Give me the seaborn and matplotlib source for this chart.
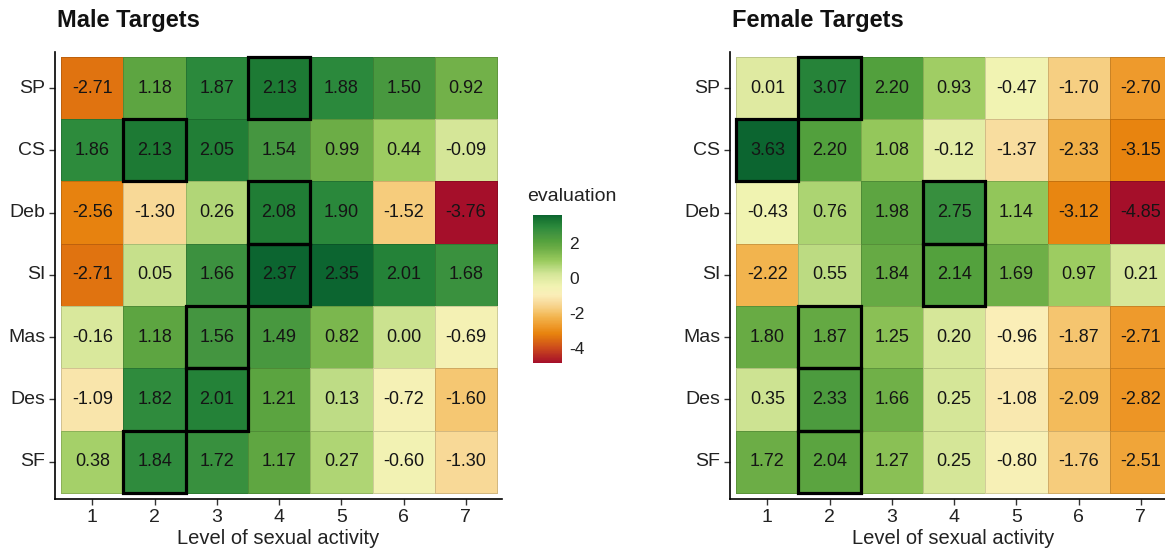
import numpy as np
import pandas as pd
import seaborn as sns
import matplotlib
matplotlib.use("Agg")
import matplotlib.pyplot as plt
from matplotlib.colors import LinearSegmentedColormap, Normalize
from matplotlib.cm import ScalarMappable
from matplotlib.patches import Rectangle

# ---------------- data ----------------
rows = ["SP", "CS", "Deb", "SI", "Mas", "Des", "SF"]
levels = ["1", "2", "3", "4", "5", "6", "7"]

male_eval = [
    [-2.71, 1.18, 1.87, 2.13, 1.88, 1.50, 0.92],
    [1.86, 2.13, 2.05, 1.54, 0.99, 0.44, -0.09],
    [-2.56, -1.30, 0.26, 2.08, 1.90, -1.52, -3.76],
    [-2.71, 0.05, 1.66, 2.37, 2.35, 2.01, 1.68],
    [-0.16, 1.18, 1.56, 1.49, 0.82, 0.00, -0.69],
    [-1.09, 1.82, 2.01, 1.21, 0.13, -0.72, -1.60],
    [0.38, 1.84, 1.72, 1.17, 0.27, -0.60, -1.30],
]
female_eval = [
    [0.01, 3.07, 2.20, 0.93, -0.47, -1.70, -2.70],
    [3.63, 2.20, 1.08, -0.12, -1.37, -2.33, -3.15],
    [-0.43, 0.76, 1.98, 2.75, 1.14, -3.12, -4.85],
    [-2.22, 0.55, 1.84, 2.14, 1.69, 0.97, 0.21],
    [1.80, 1.87, 1.25, 0.20, -0.96, -1.87, -2.71],
    [0.35, 2.33, 1.66, 0.25, -1.08, -2.09, -2.82],
    [1.72, 2.04, 1.27, 0.25, -0.80, -1.76, -2.51],
]
cbar_ticks = [2, 0, -2, -4]

titles = ["Male Targets", "Female Targets"]
x_title = "Level of sexual activity"
legend_title = "evaluation"

# ---------------- style ----------------
cmap = LinearSegmentedColormap.from_list("evalpal", [
    (0.00, "#A50F2A"),
    (0.10, "#CC4A1C"),
    (0.17, "#E07410"),
    (0.20, "#E8840F"),
    (0.25, "#EE9A2B"),
    (0.31, "#F2B44E"),
    (0.37, "#F6CE80"),
    (0.41, "#F8DC9E"),
    (0.46, "#FAEEB8"),
    (0.52, "#F1F3B2"),
    (0.60, "#D5E698"),
    (0.64, "#BBDB82"),
    (0.69, "#9BCB5E"),
    (0.78, "#6AAC45"),
    (0.83, "#52A03D"),
    (0.87, "#449540"),
    (0.92, "#2C8A3C"),
    (0.96, "#1D7A34"),
    (1.00, "#0C6530"),
])

sns.set_theme(style="white")
plt.rcParams["font.family"] = ["Liberation Sans", "DejaVu Sans"]

W, H = 1165, 552
fig = plt.figure(figsize=(W / 100, H / 100), dpi=100)

def fx(px):
    return px / W

def fy(py):
    return 1 - py / H

panel_left_px = [55, 730]
ax_w_px = 447
ax_top_px, ax_bot_px = 52, 499

for k, (vals, title) in enumerate(zip([male_eval, female_eval], titles)):
    df = pd.DataFrame(vals, index=rows, columns=levels)
    lpx = panel_left_px[k]
    ax = fig.add_axes([fx(lpx), fy(ax_bot_px), ax_w_px / W, (ax_bot_px - ax_top_px) / H])
    vmin, vmax = float(df.values.min()), float(df.values.max())
    sns.heatmap(df, ax=ax, cmap=cmap, vmin=vmin, vmax=vmax, annot=True, fmt=".2f",
                cbar=False, linewidths=0.5, linecolor=(0, 0, 0, 0.15),
                annot_kws={"color": "#151515", "fontsize": 13})
    # highlight row maxima
    arr = df.values
    for i in range(arr.shape[0]):
        j = int(np.argmax(arr[i]))
        ax.add_patch(Rectangle((j, i), 1, 1, fill=False, ec="black", lw=2.3,
                               zorder=6, clip_on=False))
    ax.set_xlim(-0.1, 7.08)
    ax.set_ylim(7.1, -0.08)
    for side in ["left", "bottom"]:
        ax.spines[side].set_visible(True)
        ax.spines[side].set_color("black")
        ax.spines[side].set_linewidth(1.2)
    for side in ["right", "top"]:
        ax.spines[side].set_visible(False)
    ax.tick_params(axis="both", length=4, width=1, color="#333333",
                   labelsize=14, labelcolor="#222222", pad=3,
                   left=True, bottom=True)
    ax.set_yticklabels(rows, rotation=0)
    ax.set_xticklabels(levels, rotation=0)
    ax.set_ylabel("")
    ax.set_xlabel(x_title, fontsize=14.5, color="#222222", labelpad=2)
    fig.text(fx(lpx + 2), fy(20), title, fontsize=17, fontweight="bold",
             ha="left", va="center", color="#111111")

# legend (colour bar) using female range
fvals = np.array(female_eval)
norm = Normalize(vmin=fvals.min(), vmax=fvals.max())
cax = fig.add_axes([fx(533), fy(363), 29 / W, 148 / H])
sm = ScalarMappable(norm=norm, cmap=cmap)
cb = fig.colorbar(sm, cax=cax, ticks=cbar_ticks)
cb.outline.set_visible(False)
cax.tick_params(axis="y", direction="in", length=5, width=1, color="white",
                left=True, right=True, labelsize=12.5, labelcolor="#222222", pad=5)
cb.set_ticklabels([str(t) for t in cbar_ticks])
fig.text(fx(527), fy(197), legend_title, fontsize=14, ha="left", va="center",
         color="#222222")

fig.savefig("out.png", dpi=100)
